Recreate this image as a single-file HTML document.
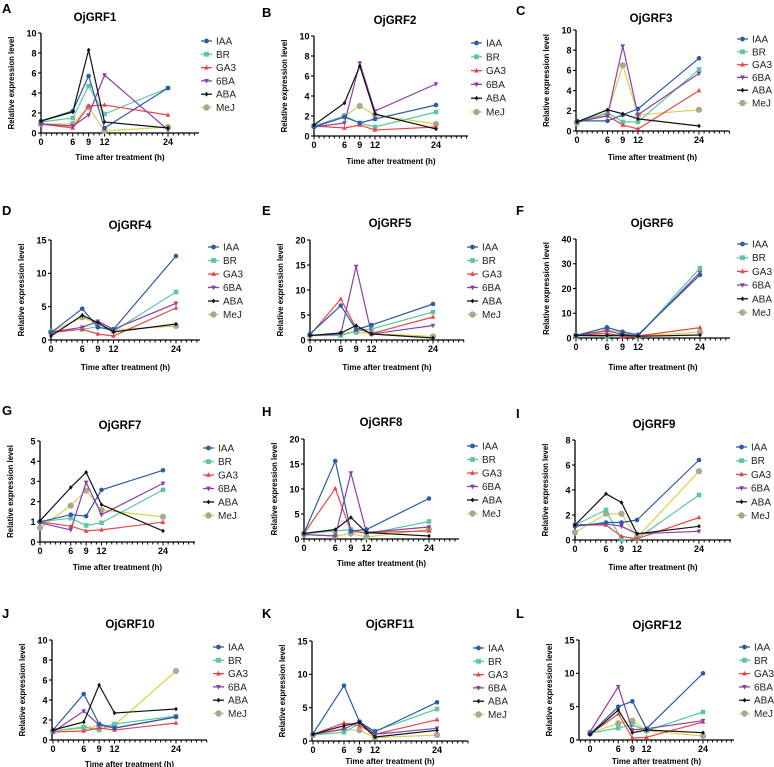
<!DOCTYPE html>
<html><head><meta charset="utf-8"><style>
html,body{margin:0;padding:0;background:#fff;}
svg{display:block;font-family:"Liberation Sans",Arial,sans-serif;}
</style></head><body>
<svg id="fig" width="774" height="767" viewBox="0 0 774 767" xmlns="http://www.w3.org/2000/svg"></svg>
<script>
const hours = [0, 6, 9, 12, 24];
const treatments = ["IAA", "BR", "GA3", "6BA", "ABA", "MeJ"];
const geneNames = ["OjGRF1","OjGRF2","OjGRF3","OjGRF4","OjGRF5","OjGRF6","OjGRF7","OjGRF8","OjGRF9","OjGRF10","OjGRF11","OjGRF12"];
const panelLetters = ["A","B","C","D","E","F","G","H","I","J","K","L"];
const yMaxes = [10,10,10,15,20,40,5,20,8,10,15,15];
const ySteps = [2,2,2,5,5,10,1,5,2,2,5,5];
const grf1 = [[1.2,2.2,5.7,0.5,4.5],[1.1,1.5,4.7,1.9,4.5],[0.9,0.5,2.7,2.8,1.8],[0.9,0.7,1.8,5.8,0.3],[1.2,2.1,8.3,1.1,0.5],[0.9,0.9,2.6,0.2,0.6]];
const grf2 = [[0.9,1.9,1.3,1.7,3.1],[1.0,2.0,1.3,0.9,2.4],[1.0,0.8,1.1,0.6,0.9],[0.9,1.3,7.3,2.5,5.2],[1.1,3.3,7.0,2.2,0.7],[1.0,2.0,3.0,2.1,1.2]];
const grf3 = [[1.0,1.0,1.6,2.2,7.2],[0.9,1.8,0.9,0.9,6.1],[0.9,1.5,0.6,0.2,4.0],[0.9,1.5,8.4,1.6,5.7],[0.9,2.1,1.7,1.2,0.5],[0.8,1.7,6.5,1.6,2.1]];
const grf4 = [[1.1,4.7,1.9,1.6,12.6],[1.2,1.6,2.0,1.3,7.2],[1.1,1.6,0.9,0.6,4.8],[1.2,1.9,2.8,1.6,5.5],[0.6,3.7,2.6,1.2,2.4],[1.2,3.4,2.4,1.5,2.1]];
const grf5 = [[1.2,6.9,2.1,3.0,7.2],[0.9,0.9,1.8,2.2,5.6],[1.0,8.2,2.4,1.3,4.6],[0.9,1.2,14.7,1.2,2.9],[0.9,1.4,2.9,1.2,0.4],[0.9,1.3,1.6,1.3,0.7]];
const grf6 = [[1,4.3,2.5,1.3,25.5],[1,0.6,1.0,0.8,28.2],[1,2.0,0.5,0.8,4.2],[1,2.9,1.5,0.9,26.5],[1,1.0,1.2,0.7,1.2],[1,3.3,2.2,0.8,2.3]];
const grf7 = [[1.0,1.35,1.28,2.58,3.55],[1.0,1.18,0.82,0.95,2.58],[1.0,0.78,0.55,0.6,0.98],[0.95,0.6,2.95,1.35,2.9],[1.05,2.7,3.45,1.85,0.55],[0.7,1.8,2.55,1.58,1.25]];
const grf8 = [[1.2,15.6,1.6,1.9,8.1],[1.1,1.6,1.9,1.0,3.5],[1.1,10.1,1.5,1.3,1.6],[0.9,0.6,13.2,1.3,2.4],[1.1,1.9,4.3,1.3,0.6],[0.9,0.6,1.1,0.4,1.9]];
const grf9 = [[1.1,1.4,1.4,1.6,6.4],[1.2,2.4,0.0,0.1,3.6],[1.2,1.2,0.3,0.1,1.8],[1.2,1.3,1.1,0.5,0.7],[1.2,3.7,3.0,0.5,1.1],[0.6,2.1,2.1,0.2,5.5]];
const grf10 = [[1.0,4.6,1.6,1.2,2.3],[0.9,1.3,1.0,1.6,2.4],[0.8,0.9,1.2,1.0,1.7],[0.8,2.9,1.5,1.2,2.3],[1.0,1.8,5.5,2.7,3.1],[0.9,1.2,1.4,1.5,6.9]];
const grf11 = [[1.1,8.3,2.9,1.4,5.8],[0.9,1.3,2.6,1.5,4.8],[1.0,2.7,2.3,1.0,3.2],[1.0,1.8,2.9,1.0,1.9],[1.0,2.3,2.8,0.6,1.6],[0.9,1.7,1.6,0.5,0.9]];
const grf12 = [[0.9,5.0,5.8,1.7,10.0],[1.0,1.8,2.3,1.4,4.2],[0.9,3.9,0.3,0.4,2.7],[1.2,8.0,1.5,1.7,2.9],[0.8,4.5,1.1,1.5,1.1],[1.0,2.5,2.9,1.4,0.6]];
const allData = [grf1,grf2,grf3,grf4,grf5,grf6,grf7,grf8,grf9,grf10,grf11,grf12];

// layout (pixel geometry, not data)
const layout = [
 {ax:41,top:33,bot:133,x0:41,x24:168,xe:199,tx:95,ty:21,xl:157,lx:201,ly:41,ls:13.3,lex:2,ley:13},
 {ax:314,top:36,bot:136,x0:314,x24:436,xe:468,tx:395,ty:24,xl:161,lx:471,ly:43,ls:13.8,lex:262,ley:17},
 {ax:576,top:30,bot:131,x0:577,x24:699,xe:729,tx:651,ty:22,xl:157,lx:737,ly:39,ls:12.8,lex:516,ley:15},
 {ax:51,top:240,bot:340,x0:51,x24:176,xe:200,tx:130,ty:229,xl:367,lx:208,ly:247,ls:13.5,lex:2,ley:215},
 {ax:310,top:240,bot:340,x0:310,x24:433,xe:464,tx:390,ty:227,xl:367,lx:467,ly:247,ls:13.5,lex:262,ley:215},
 {ax:576,top:239,bot:338,x0:576,x24:700,xe:730,tx:652,ty:227,xl:367,lx:737,ly:244,ls:13.7,lex:516,ley:215},
 {ax:40,top:441,bot:542,x0:40,x24:163,xe:195,tx:120,ty:429,xl:567,lx:203,ly:448,ls:13.5,lex:2,ley:415},
 {ax:304,top:439,bot:539,x0:304,x24:429,xe:459,tx:381,ty:426,xl:563,lx:467,ly:446,ls:13.5,lex:262,ley:416},
 {ax:575,top:440,bot:540,x0:575,x24:699,xe:731,tx:654,ty:428,xl:567,lx:736,ly:447,ls:13.7,lex:516,ley:418},
 {ax:52,top:640,bot:740,x0:53,x24:176,xe:207,tx:130,ty:628,xl:764,lx:213,ly:647,ls:13.3,lex:2,ley:618},
 {ax:312,top:641,bot:741,x0:313,x24:437,xe:468,tx:390,ty:628,xl:761,lx:473,ly:648,ls:13.3,lex:262,ley:618},
 {ax:579,top:640,bot:740,x0:590,x24:703,xe:734,tx:657,ty:629,xl:761,lx:739,ly:647,ls:13.3,lex:516,ley:618}
];
const colors = ["#2e5aa6","#5cc7a0","#e8474a","#8a3fa8","#111111","#d8d24a"];
const markFill = ["#2e5aa6","#5cc7a0","#e8474a","#8a3fa8","#111111","#a9a98f"];

const NS = "http://www.w3.org/2000/svg";
const svg = document.getElementById("fig");
function mk(tag, attrs, parent, text) {
  const e = document.createElementNS(NS, tag);
  for (const k in attrs) e.setAttribute(k, attrs[k]);
  if (text !== undefined) e.textContent = text;
  (parent || svg).appendChild(e);
  return e;
}
function marker(g, i, x, y, r) {
  let m;
  if (i === 0 || i === 5) m = mk("circle", {cx:x, cy:y, r:(i===5?r+0.8:r), fill:markFill[i]}, g);
  else if (i === 1) m = mk("rect", {x:x-r, y:y-r, width:2*r, height:2*r, fill:markFill[i]}, g);
  else if (i === 2) m = mk("polygon", {points:`${x},${y-r-0.5} ${x-r},${y+r-0.5} ${x+r},${y+r-0.5}`, fill:markFill[i]}, g);
  else if (i === 3) m = mk("polygon", {points:`${x},${y+r+0.5} ${x-r},${y-r+0.5} ${x+r},${y-r+0.5}`, fill:markFill[i]}, g);
  else m = mk("polygon", {points:`${x},${y-r} ${x-r*0.8},${y} ${x},${y+r} ${x+r*0.8},${y}`, fill:markFill[i]}, g);
  return m;
}

layout.forEach((L, p) => {
  const g = mk("g", {});
  
  
  const ymax = yMaxes[p], step = ySteps[p];
  const sx = h => L.x0 + (L.x24 - L.x0) * h / 24;
  const sy = v => L.bot - (L.bot - L.top) * v / ymax;

  const letter = mk("text", {x:L.lex, y:L.ley, "font-size":13, "font-weight":"bold", fill:"#000"}, g, panelLetters[p]);
  
  
  const title = mk("text", {x:L.tx, y:L.ty, "font-size":11.5, "font-weight":"bold", "text-anchor":"middle"}, g, geneNames[p]);
  
  

  // axes
  const ya = mk("line", {x1:L.ax, y1:L.top, x2:L.ax, y2:L.bot+0.5, stroke:"#000", "stroke-width":1.3}, g);
  
  
  const xa = mk("line", {x1:L.ax, y1:L.bot, x2:L.xe, y2:L.bot, stroke:"#000", "stroke-width":1.3}, g);
  
  
  for (let v = 0; v <= ymax + 1e-9; v += step) {
    mk("line", {x1:L.ax-3, y1:sy(v), x2:L.ax, y2:sy(v), stroke:"#000", "stroke-width":1.1}, g);
    const t = mk("text", {x:L.ax-4.5, y:sy(v)+3.3, "font-size":9, "font-weight":"bold", "text-anchor":"end"}, g, String(v));
    
    
  }
  const hStart = Math.ceil((L.ax - L.x0) / ((L.x24 - L.x0) / 24));
  for (let h = hStart; sx(h) <= L.xe + 0.5; h++) {
    const major = hours.includes(h);
    mk("line", {x1:sx(h), y1:L.bot, x2:sx(h), y2:L.bot+(major?3.5:2.5), stroke:"#000", "stroke-width":1}, g);
  }
  hours.forEach(h => {
    const t = mk("text", {x:sx(h), y:L.bot+12, "font-size":9, "font-weight":"bold", "text-anchor":"middle"}, g, String(h));
    
    
  });
  const xl = mk("text", {x:(L.ax+L.xe)/2, y:L.xl+3, "font-size":8, "font-weight":"bold", "text-anchor":"middle"}, g, "Time after treatment (h)");
  
  
  const ycx = L.ax - 27, ycy = (L.top + L.bot) / 2;
  const yl = mk("text", {x:ycx, y:ycy, "font-size":7.8, "font-weight":"bold", "text-anchor":"middle", transform:`rotate(-90 ${ycx} ${ycy})`}, g, "Relative expression level");
  
  

  // series
  const data = allData[p];
  [5,1,2,3,0,4].forEach(i => {
    const series = data[i];
    const sg = mk("g", {}, g);
    
    
    const pts = series.map((v, k) => `${sx(hours[k]).toFixed(1)},${sy(v).toFixed(1)}`).join(" ");
    const pl = mk("polyline", {points:pts, fill:"none", stroke:colors[i], "stroke-width":1.2}, sg);
    
    
    series.forEach((v, k) => {
      const m = marker(sg, i, sx(hours[k]), sy(v), 2.3);
      
      
    });
  });

  // legend
  treatments.forEach((name, i) => {
    const y = L.ly + L.ls * i;
    const lg = mk("g", {}, g);
    
    
    mk("line", {x1:L.lx, y1:y, x2:L.lx+11, y2:y, stroke:colors[i], "stroke-width":1.3}, lg);
    marker(lg, i, L.lx+5.5, y, 2.4);
    mk("text", {x:L.lx+15, y:y+3.5, "font-size":10, fill:"#222"}, lg, name);
  });
});
</script>
</body></html>
